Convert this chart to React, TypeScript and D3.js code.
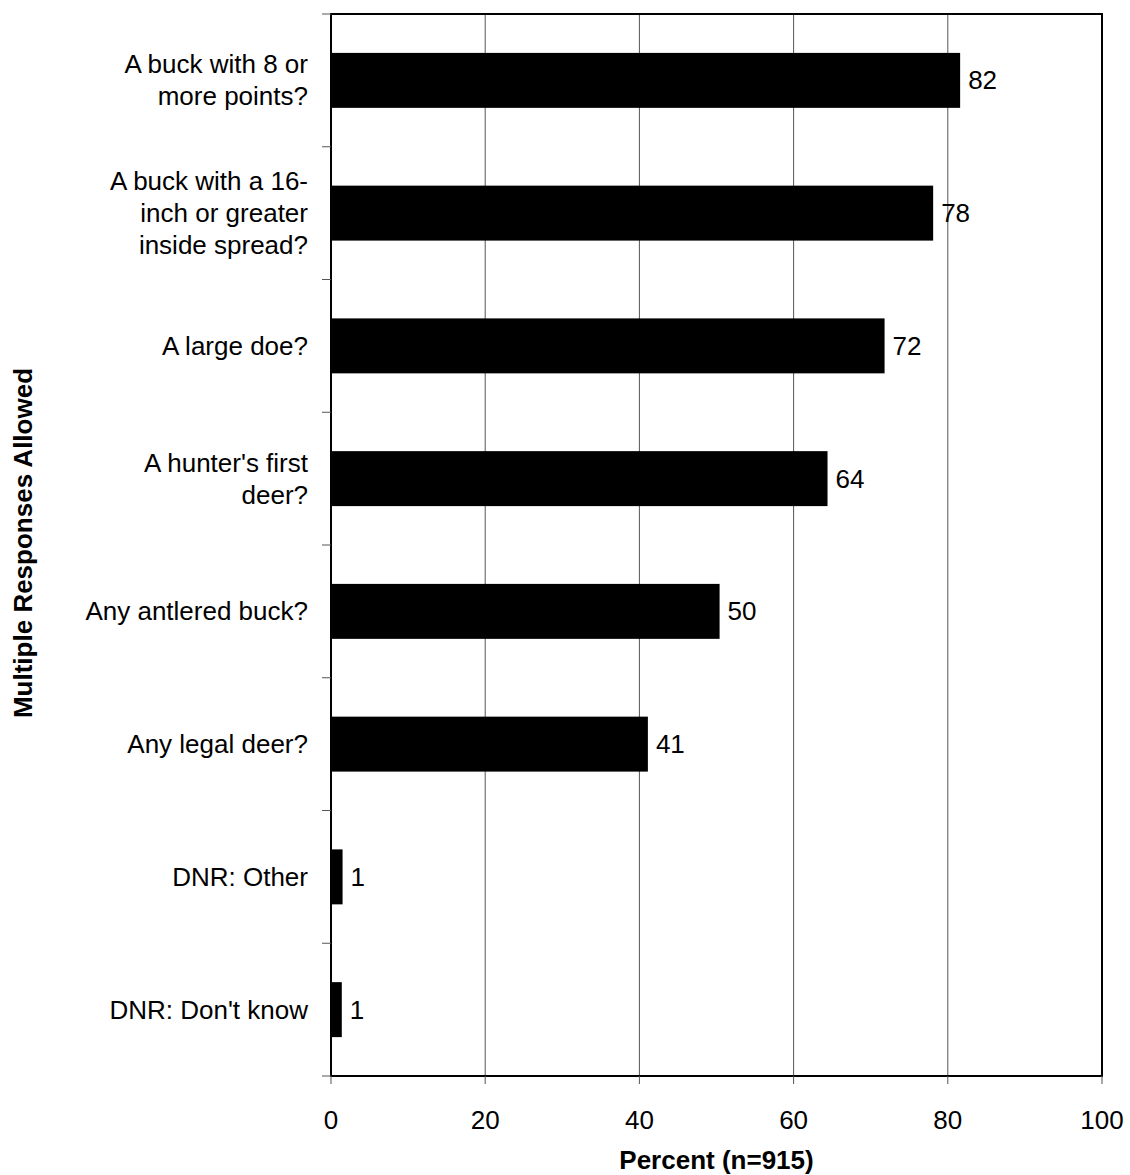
import React from "react";
import * as d3 from "d3";

const categories = [
  "A buck with 8 or more points?",
  "A buck with a 16-inch or greater inside spread?",
  "A large doe?",
  "A hunter's first deer?",
  "Any antlered buck?",
  "Any legal deer?",
  "DNR: Other",
  "DNR: Don't know",
];
const categoryLines = [
  ["A buck with 8 or", "more points?"],
  ["A buck with a 16-", "inch or greater", "inside spread?"],
  ["A large doe?"],
  ["A hunter's first", "deer?"],
  ["Any antlered buck?"],
  ["Any legal deer?"],
  ["DNR: Other"],
  ["DNR: Don't know"],
];
const values = [81.6, 78.1, 71.8, 64.4, 50.4, 41.1, 1.5, 1.4];
const valueLabels = ["82", "78", "72", "64", "50", "41", "1", "1"];
const xTicks = [0, 20, 40, 60, 80, 100];

export default function App() {
  const W = 1130, H = 1175;
  const left = 331, right = 1102, top = 14, bottom = 1076;
  const x = d3.scaleLinear().domain([0, 100]).range([left, right]);
  const y = d3.scaleBand<string>().domain(categories).range([top, bottom]).paddingInner(0.586).paddingOuter(0.293);
  const step = y.step();
  const font = "'Liberation Sans', Arial, sans-serif";
  const lineH = 32;
  return (
    <svg width={W} height={H} style={{ position: "absolute", left: 0, top: 0, background: "#fff" }} fontFamily={font}>
      <rect x={0} y={0} width={W} height={H} fill="#fff" />
      {xTicks.slice(1, -1).map((t) => (
        <line key={"g" + t} x1={x(t)} x2={x(t)} y1={top} y2={bottom} stroke="#555" strokeWidth={1} />
      ))}
      {categories.map((c, i) => (
        <rect key={c} x={x(0)} y={y(c)!} width={x(values[i]) - x(0)} height={y.bandwidth()} fill="#000" />
      ))}
      {categories.map((c, i) => (
        <text key={"v" + c} x={x(values[i]) + 8} y={y(c)! + y.bandwidth() / 2} dy="0.35em" fontSize={26} fill="#000">
          {valueLabels[i]}
        </text>
      ))}
      <rect x={left} y={top} width={right - left} height={bottom - top} fill="none" stroke="#000" strokeWidth={2} />
      {d3.range(categories.length + 1).map((i) => (
        <line key={"yt" + i} x1={left - 9} x2={left} y1={top + i * step} y2={top + i * step} stroke="#555" strokeWidth={1} />
      ))}
      {xTicks.map((t) => (
        <g key={"xt" + t}>
          <line x1={x(t)} x2={x(t)} y1={bottom} y2={bottom + 8} stroke="#555" strokeWidth={1} />
          <text x={x(t)} y={1129} textAnchor="middle" fontSize={26} fill="#000">{t}</text>
        </g>
      ))}
      {categories.map((c, i) => {
        const lines = categoryLines[i];
        const cy = y(c)! + y.bandwidth() / 2;
        const startY = cy - ((lines.length - 1) * lineH) / 2;
        return (
          <text key={"c" + c} x={308} textAnchor="end" fontSize={26} fill="#000">
            {lines.map((l, j) => (
              <tspan key={j} x={308} y={startY + j * lineH} dy="0.35em">{l}</tspan>
            ))}
          </text>
        );
      })}
      <text x={(left + right) / 2} y={1169} textAnchor="middle" fontSize={26} fontWeight="bold" fill="#000">
        Percent (n=915)
      </text>
      <text transform={`translate(32, 543) rotate(-90)`} textAnchor="middle" fontSize={26} fontWeight="bold" fill="#000">
        Multiple Responses Allowed
      </text>
    </svg>
  );
}
